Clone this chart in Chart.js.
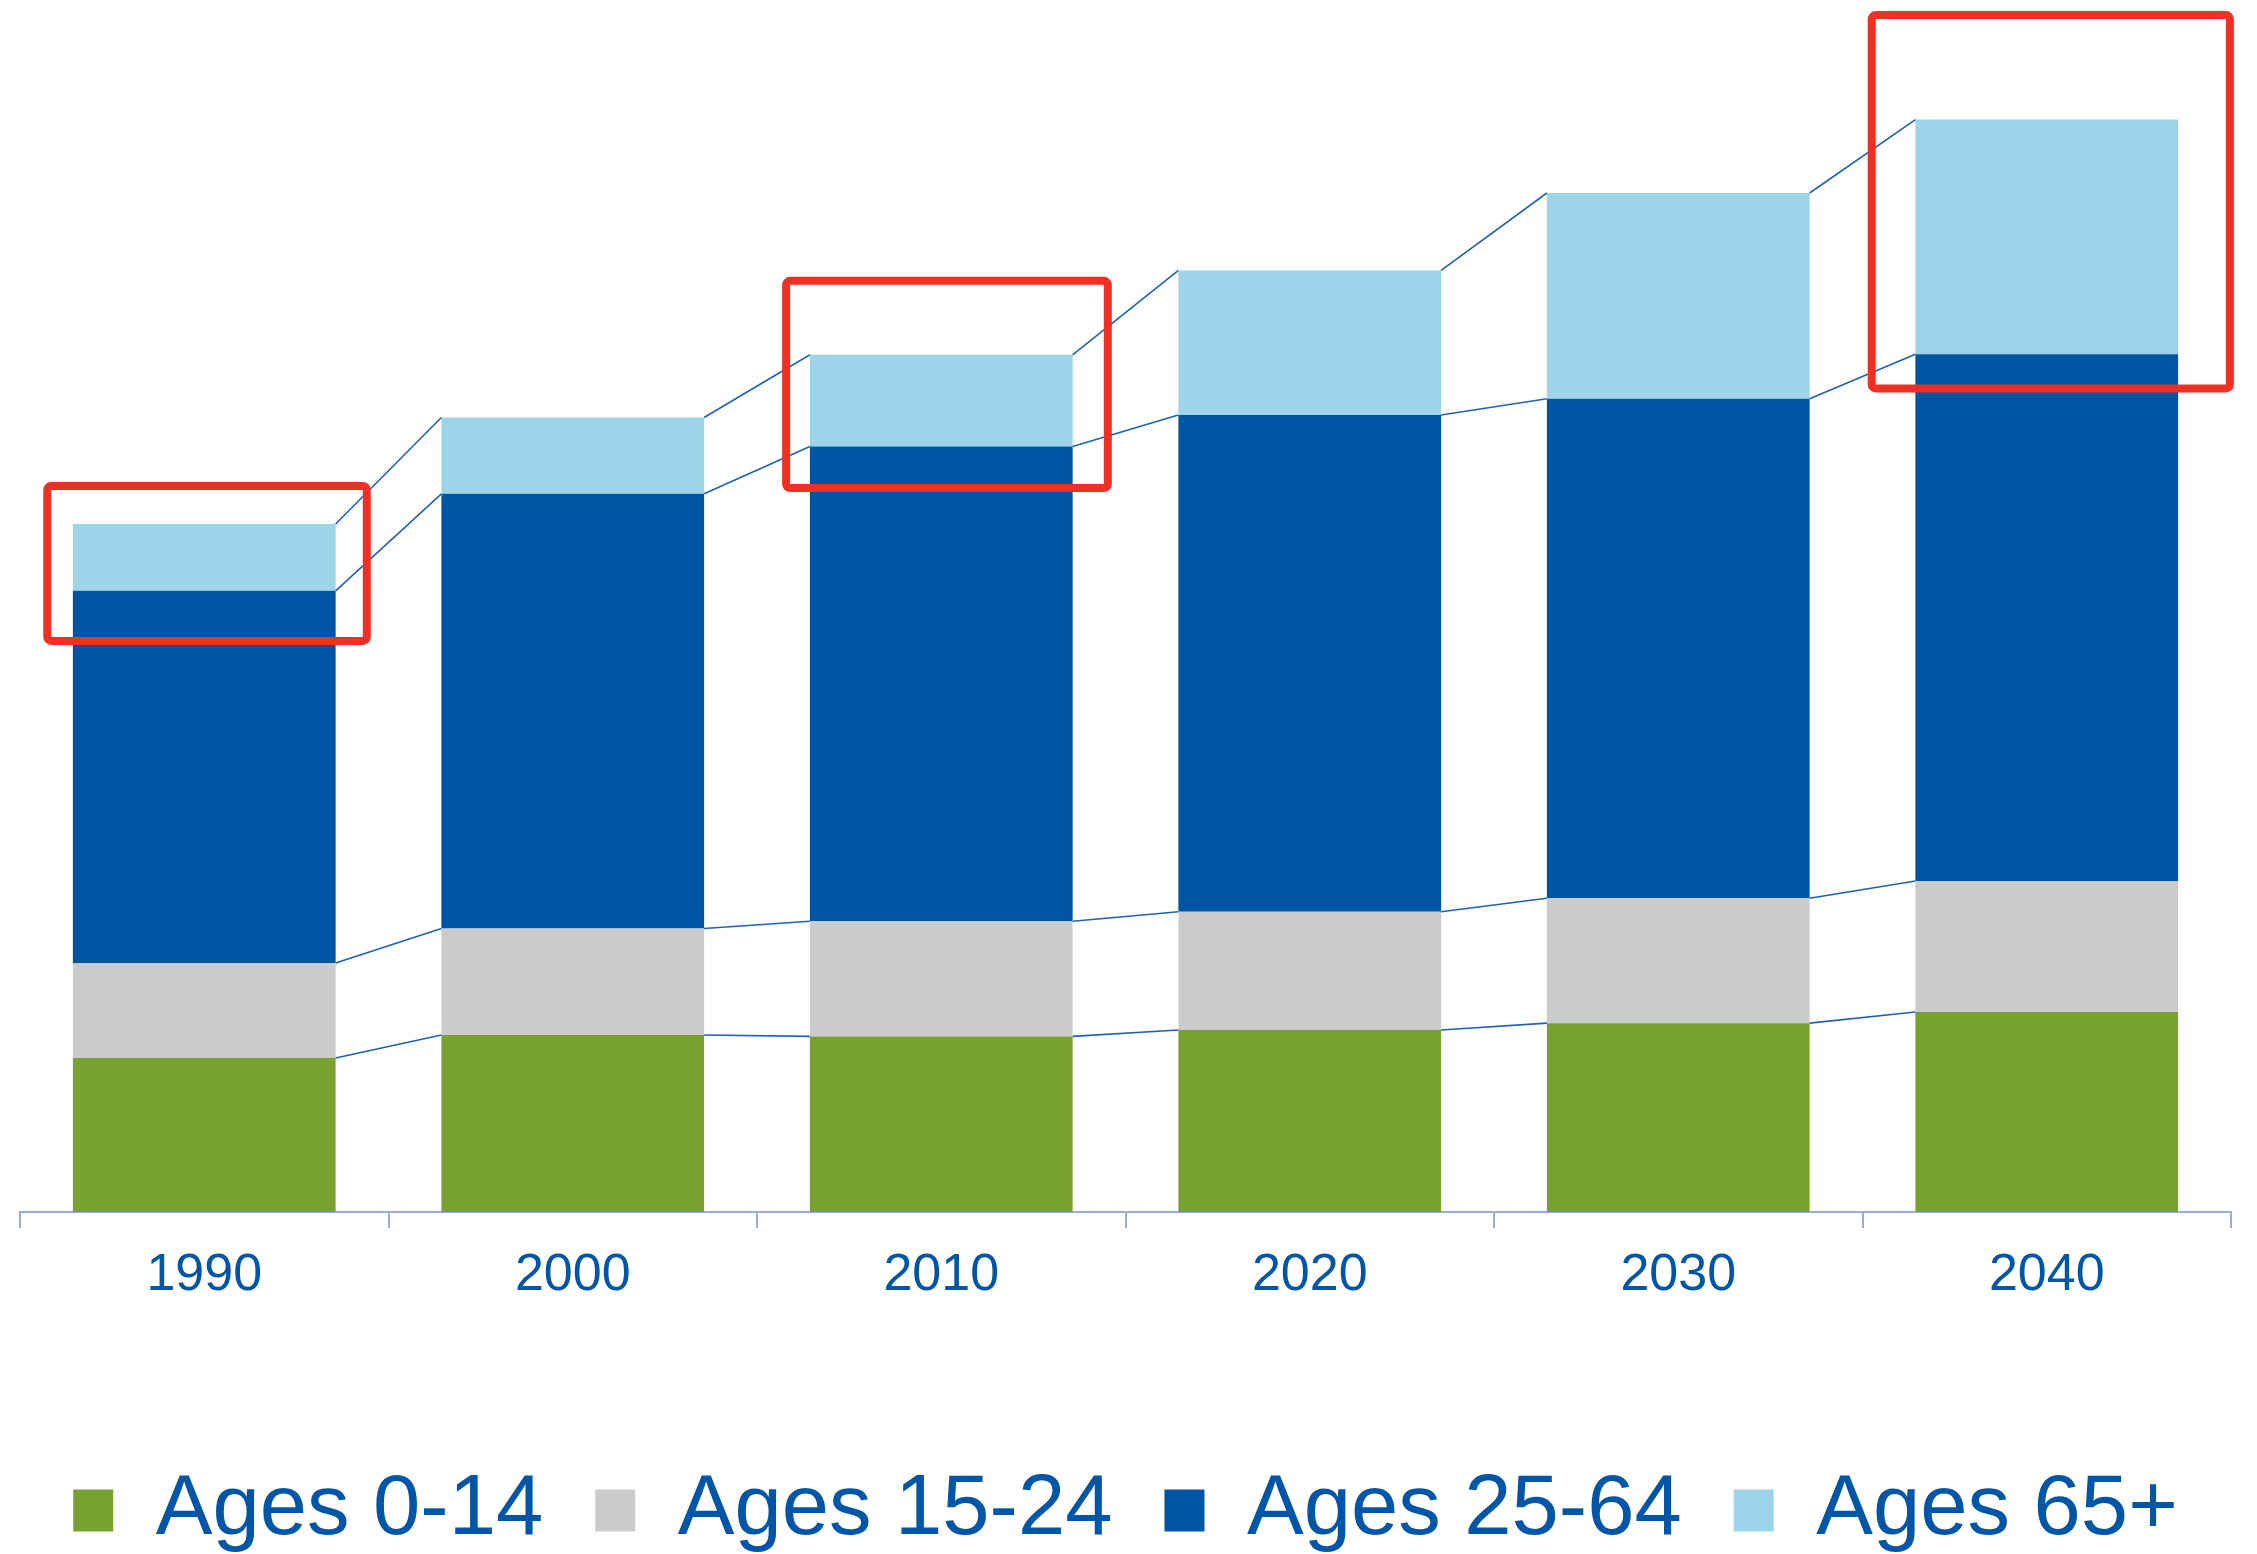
<!DOCTYPE html>
<html>
<head>
<meta charset="utf-8">
<title>Population by age group</title>
<script src="https://cdn.jsdelivr.net/npm/chart.js@4/dist/chart.umd.min.js"></script>
<style>
    html, body { margin: 0; padding: 0; background: #ffffff; overflow: hidden; }
    #wrap { position: relative; width: 2257px; height: 1554px; }
</style>
</head>
<body>
<div id="wrap"><canvas id="popChart"></canvas></div>
<script>
// categories and stacked values (millions)
const years = ['1990', '2000', '2010', '2020', '2030', '2040'];
const ages0to14 = [53.5, 61.5, 61, 63.2, 65.6, 69.5];
const ages15to24 = [33, 37, 40, 41.1, 43.4, 45.5];
const ages25to64 = [129.3, 151, 164.9, 172.6, 173.5, 183];
const ages65plus = [23.2, 26.5, 31.9, 50.2, 71.5, 81.5];
const seriesNames = ['Ages 0-14', 'Ages 15-24', 'Ages 25-64', 'Ages 65+'];

const colors = ['#78a22f', '#cbcbcb', '#0054a4', '#9cd4ea'];
const textBlue = '#0056a6';

// red highlight frames: category, offsets in category units, top/bottom in value units
const highlights = [
    { year: '1990', from: -0.426, to: 0.441, top: 252.2, bottom: 198.4 },
    { year: '2010', from: -0.421, to: 0.452, top: 323.5, bottom: 251.5 },
    { year: '2040', from: -0.475, to: 0.497, top: 415.8, bottom: 286.1 }
];

// thin lines joining the segment tops of neighbouring bars
const seriesLines = {
    id: 'seriesLines',
    afterDatasetsDraw(chart) {
        const ctx = chart.ctx;
        ctx.save();
        ctx.strokeStyle = '#1f62b0';
        ctx.lineWidth = 1.6;
        chart.data.datasets.forEach((ds, d) => {
            const meta = chart.getDatasetMeta(d);
            for (let i = 0; i < meta.data.length - 1; i++) {
                const a = meta.data[i];
                const b = meta.data[i + 1];
                ctx.beginPath();
                ctx.moveTo(a.x + a.width / 2, a.y);
                ctx.lineTo(b.x - b.width / 2, b.y);
                ctx.stroke();
            }
        });
        ctx.restore();
    }
};

const highlightFrames = {
    id: 'highlightFrames',
    afterDraw(chart) {
        const ctx = chart.ctx;
        const xs = chart.scales.x;
        const ys = chart.scales.y;
        ctx.save();
        ctx.strokeStyle = '#ee3124';
        ctx.lineWidth = 8;
        ctx.lineJoin = 'round';
        highlights.forEach(h => {
            const idx = years.indexOf(h.year);
            const x1 = xs.getPixelForValue(idx + h.from);
            const x2 = xs.getPixelForValue(idx + h.to);
            const y1 = ys.getPixelForValue(h.top);
            const y2 = ys.getPixelForValue(h.bottom);
            ctx.beginPath();
            ctx.roundRect(x1, y1, x2 - x1, y2 - y1, 4);
            ctx.stroke();
        });
        ctx.restore();
    }
};

Chart.defaults.font.family = "'Liberation Sans', Arial, sans-serif";

const popCtx = document.getElementById('popChart').getContext('2d');

const popChart = new Chart(popCtx, {
    type: 'bar',
    data: {
        labels: years,
        datasets: [ages0to14, ages15to24, ages25to64, ages65plus].map((vals, i) => ({
            label: seriesNames[i],
            data: vals,
            backgroundColor: colors[i],
            borderWidth: 0,
            barPercentage: 0.713,
            categoryPercentage: 1
        }))
    },
    options: {
        responsive: true,
        maintainAspectRatio: false,
        animation: false,
        layout: {
            padding: { left: 20, right: 26, top: 3, bottom: 0 }
        },
        plugins: {
            legend: {
                position: 'bottom',
                maxHeight: 138,
                labels: {
                    boxWidth: 40,
                    boxHeight: 42,
                    padding: 52,
                    color: textBlue,
                    font: { size: 85 }
                }
            },
            tooltip: { enabled: false },
            title: { display: false }
        },
        scales: {
            x: {
                stacked: true,
                afterFit: function (scale) {
                    scale.height = 204;
                },
                grid: {
                    display: true,
                    drawOnChartArea: false,
                    drawTicks: true,
                    tickLength: 16,
                    color: '#9aabd4',
                    lineWidth: 2
                },
                border: {
                    display: true,
                    color: '#9aabd4',
                    width: 2
                },
                ticks: {
                    color: textBlue,
                    padding: 16,
                    font: { size: 52 }
                }
            },
            y: {
                stacked: true,
                display: false,
                min: 0,
                max: 420
            }
        }
    },
    plugins: [seriesLines, highlightFrames]
});
</script>
</body>
</html>
